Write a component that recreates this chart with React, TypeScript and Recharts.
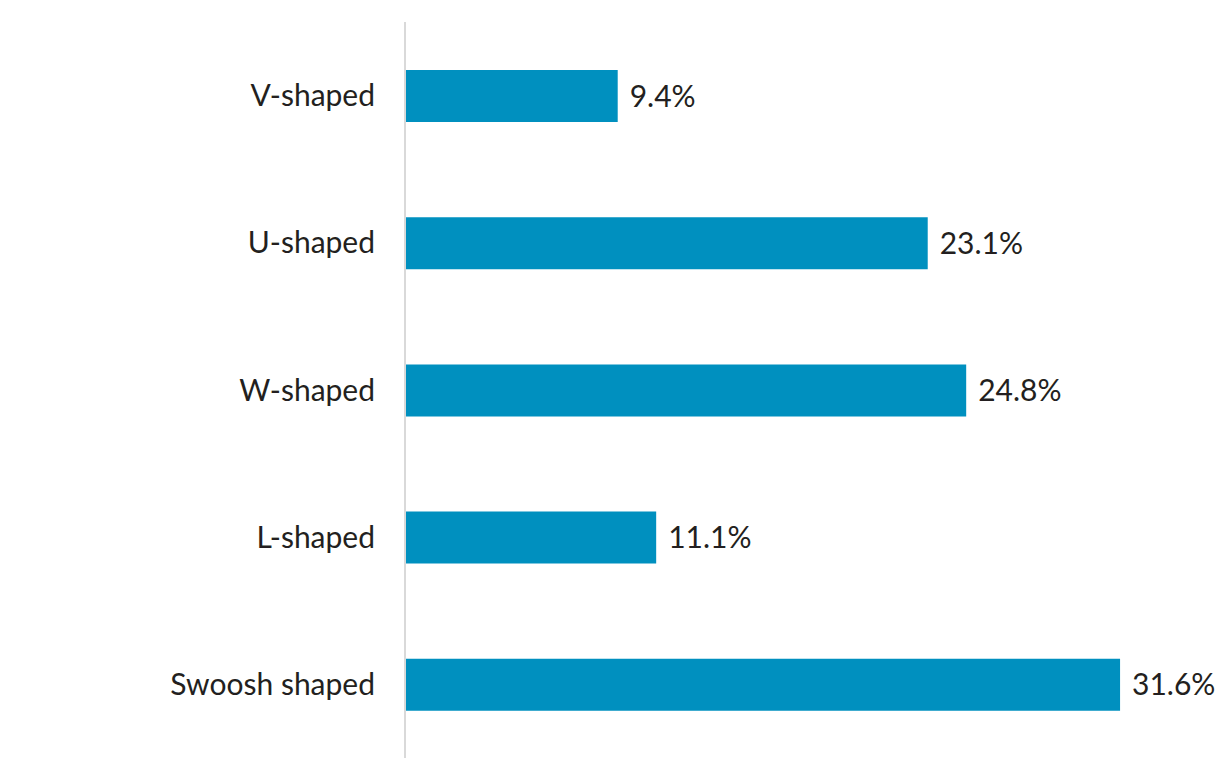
import React from "react";
import { BarChart, Bar, XAxis, YAxis, LabelList } from "recharts";

const categories = ["V-shaped", "U-shaped", "W-shaped", "L-shaped", "Swoosh shaped"];
const values = [9.4, 23.1, 24.8, 11.1, 31.6];

const data = categories.map((name, i) => ({ name, value: values[i] }));

const FONT = "Lato, 'Open Sans', sans-serif";

export default function App() {
  return (
    <div style={{ position: "absolute", left: 0, top: 0, background: "#fff" }}>
      <BarChart
        width={1220}
        height={779}
        data={data}
        layout="vertical"
        margin={{ top: 22, right: 23, bottom: 21, left: 0 }}
      >
        <XAxis type="number" domain={[0, 35]} hide />
        <YAxis
          type="category"
          dataKey="name"
          width={405}
          tickSize={0}
          tickMargin={30}
          axisLine={{ stroke: "#d9d9d9", strokeWidth: 2 }}
          tickLine={false}
          tick={{ fill: "#231f20", fontSize: 30, fontFamily: FONT }}
        />
        <Bar dataKey="value" fill="#0090bf" barSize={52} isAnimationActive={false}>
          <LabelList
            dataKey="value"
            position="right"
            offset={12}
            formatter={(v: number) => `${v.toFixed(1)}%`}
            style={{ fill: "#231f20", fontSize: 30, fontFamily: FONT }}
          />
        </Bar>
      </BarChart>
    </div>
  );
}
